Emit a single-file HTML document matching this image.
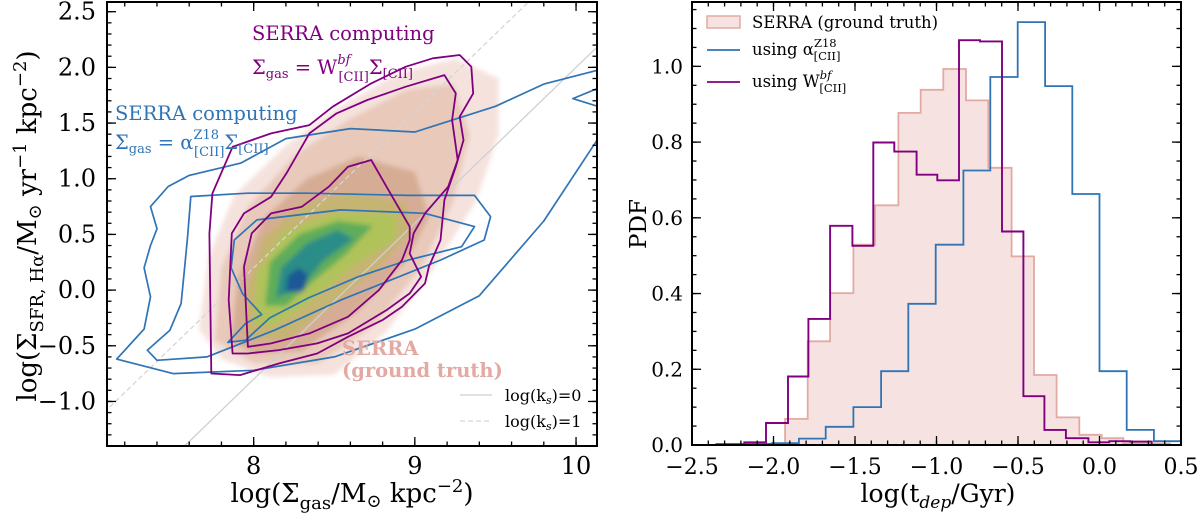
<!DOCTYPE html>
<html><head><meta charset="utf-8">
<style>
html,body{margin:0;padding:0;background:#fff;}
svg{display:block;font-family:"DejaVu Serif","Liberation Serif",serif;}
</style></head>
<body>
<svg id="fig" width="1200" height="514" viewBox="0 0 1200 514" xmlns="http://www.w3.org/2000/svg">
<defs>
<filter id="blur" x="-20%" y="-20%" width="140%" height="140%"><feGaussianBlur stdDeviation="2.5"/></filter>
<clipPath id="clipL"><rect x="107" y="2" width="490" height="444"/></clipPath>
<clipPath id="clipR"><rect x="692" y="2" width="489" height="443"/></clipPath>
</defs>
<g id="left"></g>
<g id="right"></g>
</svg>
<script>
// ===== Left panel data (data coordinates) =====
const ksSlope = [1.4];
const ksIntercepts = [-12.0, -11.0];
const densityColors = ["#f5e2dd","#e8c9ba","#d6ad94","#c6b472","#b0c35a","#5fad5a","#2a8d87","#1d5896","#0b1655"];
const densityL1 = [[7.66,-0.35],[7.72,0.3],[7.88,0.85],[8.2,1.3],[8.5,1.62],[8.9,1.95],[9.25,2.08],[9.52,1.9],[9.52,1.4],[9.38,0.8],[9.12,0.2],[8.82,-0.38],[8.5,-0.76],[8.1,-0.78],[7.8,-0.62]];
const densityL2 = [[7.76,-0.45],[7.8,0.2],[7.96,0.74],[8.26,1.22],[8.6,1.54],[8.95,1.8],[9.24,1.85],[9.34,1.4],[9.24,0.8],[9.04,0.2],[8.74,-0.33],[8.4,-0.66],[8.0,-0.66]];
const densityL3 = [[7.86,-0.45],[7.9,0.1],[8.06,0.64],[8.33,1.0],[8.65,1.2],[9.0,1.06],[9.09,0.66],[8.94,0.25],[8.64,-0.2],[8.3,-0.55],[8.0,-0.57]];
const densityL4 = [[7.94,-0.42],[7.96,0.05],[8.06,0.47],[8.3,0.78],[8.6,0.88],[8.94,0.78],[8.98,0.55],[8.78,0.2],[8.48,-0.15],[8.2,-0.45]];
const densityL5 = [[8.0,-0.3],[8.02,0.15],[8.18,0.52],[8.5,0.7],[8.88,0.68],[8.88,0.46],[8.6,0.2],[8.33,-0.13],[8.12,-0.32]];
const densityL6 = [[8.07,-0.14],[8.1,0.25],[8.28,0.5],[8.52,0.62],[8.74,0.58],[8.57,0.32],[8.37,0.08],[8.2,-0.14]];
const densityL7 = [[8.14,-0.07],[8.17,0.2],[8.33,0.42],[8.52,0.54],[8.62,0.46],[8.43,0.26],[8.3,0.03]];
const densityL8 = [[8.2,-0.02],[8.21,0.13],[8.28,0.2],[8.34,0.13],[8.31,-0.01]];
const purpleOuter = [[7.737,-0.749],[7.725,0.509],[7.744,0.868],[7.869,1.287],[8.108,1.407],[8.346,1.482],[8.49,1.647],[8.729,1.856],[8.944,2.006],[9.111,2.081],[9.278,2.111],[9.35,2.006],[9.362,1.766],[9.278,1.557],[9.302,1.347],[9.254,1.108],[9.183,0.808],[9.159,0.449],[9.087,0.21],[9.063,0.06],[8.92,-0.15],[8.8,-0.269],[8.585,-0.419],[8.394,-0.569],[8.155,-0.659],[7.916,-0.763]];
const purpleMid = [[7.869,-0.569],[7.845,-0.09],[7.864,0.509],[7.94,0.689],[8.108,0.838],[8.203,1.048],[8.346,1.407],[8.514,1.587],[8.705,1.707],[8.944,1.826],[9.183,1.931],[9.254,1.766],[9.231,1.527],[9.266,1.168],[9.207,0.928],[9.063,0.689],[8.992,0.509],[8.968,0.329],[9.039,0.12],[8.968,-0.03],[8.824,-0.18],[8.585,-0.389],[8.394,-0.479],[8.155,-0.539],[7.964,-0.569]];
const purpleInner = [[7.964,-0.509],[7.94,0.21],[7.988,0.509],[8.108,0.689],[8.299,0.749],[8.466,0.928],[8.585,1.108],[8.729,1.168],[8.824,0.928],[8.896,0.749],[8.968,0.569],[8.968,0.449],[8.92,0.269],[8.777,0.0],[8.585,-0.24],[8.346,-0.389],[8.108,-0.479]];
const blueOuter = [[7.15,-0.62],[7.5,-0.75],[8.0,-0.72],[8.5,-0.6],[9.0,-0.35],[9.4,-0.05],[9.8,0.62],[10.2,1.5],[10.2,2.0],[9.8,1.85],[9.5,1.65],[9.0,1.42],[8.6,1.45],[8.2,1.36],[7.92,1.14],[7.6,1.03],[7.47,0.93],[7.36,0.75],[7.4,0.55],[7.36,0.4],[7.32,0.2],[7.36,-0.06],[7.32,-0.35]];
const blueMid = [[7.59,0.48],[7.61,0.84],[7.96,0.87],[8.34,0.87],[8.96,0.85],[9.37,0.85],[9.47,0.66],[9.43,0.45],[9.16,0.27],[8.85,0.09],[8.54,-0.09],[8.13,-0.36],[7.71,-0.6],[7.4,-0.63],[7.34,-0.54],[7.48,-0.36],[7.55,-0.12],[7.57,0.18]];
const blueInner = [[7.84,-0.47],[7.95,-0.3],[8.05,-0.22],[7.93,-0.03],[7.86,0.2],[7.88,0.45],[8.02,0.63],[8.54,0.72],[9.06,0.69],[9.37,0.57],[9.29,0.39],[8.96,0.27],[8.65,0.12],[8.34,-0.07],[8.1,-0.25],[7.95,-0.45]];
const blueCorner = [[10.2,1.85],[9.98,1.72],[10.2,1.62]];
const leftXTicks = [8, 9, 10];
const leftYTicks = [-1.0, -0.5, 0.0, 0.5, 1.0, 1.5, 2.0, 2.5];
const leftYTickLabels = ["\u22121.0","\u22120.5","0.0","0.5","1.0","1.5","2.0","2.5"];

// ===== Right panel data =====
const pinkEdges = [-1.929,-1.79,-1.653,-1.51,-1.377,-1.234,-1.097,-0.958,-0.819,-0.682,-0.539,-0.402,-0.263,-0.124,0.013,0.146,0.293,0.432];
const pinkValues = [0.069,0.274,0.401,0.529,0.633,0.877,0.938,0.993,0.91,0.732,0.498,0.185,0.073,0.027,0.018,0.005,0.004];
const blueEdges = [-2.35,-2.011,-1.844,-1.68,-1.51,-1.34,-1.173,-1.005,-0.835,-0.67,-0.502,-0.334,-0.167,0.0,0.167,0.334,0.502];
const blueValues = [0.003,0.005,0.017,0.048,0.10,0.195,0.373,0.529,0.725,0.972,1.117,0.948,0.663,0.195,0.040,0.010];
const purpleEdges = [-2.179,-2.046,-1.911,-1.786,-1.653,-1.516,-1.388,-1.259,-1.122,-0.995,-0.862,-0.733,-0.598,-0.467,-0.338,-0.206,-0.068,0.06,0.187,0.32];
const purpleValues = [0.007,0.058,0.181,0.333,0.579,0.526,0.799,0.775,0.714,0.699,1.069,1.066,0.564,0.129,0.040,0.018,0.007,0.010,0.009];
const rightXTicks = [-2.5,-2.0,-1.5,-1.0,-0.5,0.0,0.5];
const rightXTickLabels = ["\u22122.5","\u22122.0","\u22121.5","\u22121.0","\u22120.5","0.0","0.5"];
const rightYTicks = [0.0,0.2,0.4,0.6,0.8,1.0];
const rightYTickLabels = ["0.0","0.2","0.4","0.6","0.8","1.0"];

const NS = "http://www.w3.org/2000/svg";
function mk(tag, attrs, parent){ const e=document.createElementNS(NS,tag); for(const k in attrs) e.setAttribute(k,attrs[k]); parent.appendChild(e); return e; }

const LA = {x0:107,x1:597,y0:2,y1:446,xmin:7.09,xmax:10.13,ymin:-1.40,ymax:2.587};
const RA = {x0:692,x1:1181,y0:2,y1:445,xmin:-2.5,xmax:0.5,ymin:0,ymax:1.17};
const lx = v => LA.x0 + (v-LA.xmin)/(LA.xmax-LA.xmin)*(LA.x1-LA.x0);
const ly = v => LA.y1 - (v-LA.ymin)/(LA.ymax-LA.ymin)*(LA.y1-LA.y0);
const rx = v => RA.x0 + (v-RA.xmin)/(RA.xmax-RA.xmin)*(RA.x1-RA.x0);
const ry = v => RA.y1 - (v-RA.ymin)/(RA.ymax-RA.ymin)*(RA.y1-RA.y0);
function pts(arr){ return arr.map(p=>lx(p[0]).toFixed(1)+","+ly(p[1]).toFixed(1)).join(" "); }

const left = document.getElementById('left');
const right = document.getElementById('right');

// ----- Left panel -----
const plotL = mk('g',{'clip-path':'url(#clipL)'},left);


const dens = mk('g',{filter:'url(#blur)'},plotL);


[densityL1,densityL2,densityL3,densityL4,densityL5,densityL6,densityL7,densityL8].forEach((layer,i)=>{
  const p = mk('polygon',{points:pts(layer),fill:densityColors[i]},dens);
  
  
});
ksIntercepts.forEach((b,i)=>{
  const x1=7.0,x2=10.3;
  const l = mk('line',{x1:lx(x1),y1:ly(ksSlope[0]*x1+b),x2:lx(x2),y2:ly(ksSlope[0]*x2+b),stroke:i===0?'#cfcfcf':'#d6d6d6','stroke-width':1.3,'stroke-dasharray':i===0?'none':'5,3'},plotL);
  
  
});
[[blueOuter,'blue-contour-outer',true],[blueMid,'blue-contour-mid',true],[blueInner,'blue-contour-inner',true],[blueCorner,'blue-contour-corner',false]].forEach(c=>{
  const e = mk(c[2]?'polygon':'polyline',{points:pts(c[0]),fill:'none',stroke:'#2f74b5','stroke-width':1.7,'stroke-linejoin':'round'},plotL);
  
  
});
[[purpleOuter,'purple-contour-outer'],[purpleMid,'purple-contour-mid'],[purpleInner,'purple-contour-inner']].forEach(c=>{
  const e = mk('polygon',{points:pts(c[0]),fill:'none',stroke:'#800080','stroke-width':1.8,'stroke-linejoin':'round'},plotL);
  
  
});

function ticks(g, A, fx, fy, xmaj, xmin, ymaj, ymin){
  const tg = mk('g',{stroke:'#000','stroke-width':1.3},g);
  
  
  const add=(v,len,isX)=>{
    if(isX){ const X=fx(v); if(X<A.x0+1||X>A.x1-1) return;
      mk('line',{x1:X,y1:A.y1,x2:X,y2:A.y1-len},tg); mk('line',{x1:X,y1:A.y0,x2:X,y2:A.y0+len},tg);}
    else { const Y=fy(v); if(Y<A.y0+1||Y>A.y1-1) return;
      mk('line',{x1:A.x0,y1:Y,x2:A.x0+len,y2:Y},tg); mk('line',{x1:A.x1,y1:Y,x2:A.x1-len,y2:Y},tg);}
  };
  for(let v=xmin[0]; v<=xmin[1]+1e-9; v+=xmin[2]) add(+v.toFixed(3),4.5,true);
  xmaj.forEach(v=>add(v,9,true));
  for(let v=ymin[0]; v<=ymin[1]+1e-9; v+=ymin[2]) add(+v.toFixed(3),4.5,false);
  ymaj.forEach(v=>add(v,9,false));
}
ticks(left, LA, lx, ly, leftXTicks, [7.2,10.2,0.2], leftYTicks, [-1.4,2.6,0.1]);
const frameL = mk('rect',{x:LA.x0,y:LA.y0,width:LA.x1-LA.x0,height:LA.y1-LA.y0,fill:'none',stroke:'#000','stroke-width':2},left);


leftXTicks.forEach(v=>{
  const t = mk('text',{x:lx(v),y:474,'text-anchor':'middle','font-size':24},left); t.textContent=String(v);
  
  
});
leftYTicks.forEach((v,i)=>{
  const t = mk('text',{x:96,y:ly(v)+8,'text-anchor':'end','font-size':24},left); t.textContent=leftYTickLabels[i];
  
  
});

// ----- Right panel -----
const plotR = mk('g',{'clip-path':'url(#clipR)'},right);


function stepPath(edges, vals){
  let d = 'M'+rx(edges[0]).toFixed(1)+','+ry(0).toFixed(1);
  vals.forEach((v,i)=>{ d += ' V'+ry(v).toFixed(1)+' H'+rx(edges[i+1]).toFixed(1); });
  d += ' V'+ry(0).toFixed(1);
  return d;
}
const hp = mk('path',{d:stepPath(pinkEdges,pinkValues),fill:'#f6e3e1',stroke:'#e2aaa3','stroke-width':1.8},plotR);


const hb = mk('path',{d:stepPath(blueEdges,blueValues),fill:'none',stroke:'#2f74b5','stroke-width':1.8},plotR);


const hu = mk('path',{d:stepPath(purpleEdges,purpleValues),fill:'none',stroke:'#800080','stroke-width':1.9},plotR);


ticks(right, RA, rx, ry, rightXTicks, [-2.5,0.5,0.1], rightYTicks, [0,1.15,0.05]);
const frameR = mk('rect',{x:RA.x0,y:RA.y0,width:RA.x1-RA.x0,height:RA.y1-RA.y0,fill:'none',stroke:'#000','stroke-width':2},right);


rightXTicks.forEach((v,i)=>{
  const t = mk('text',{x:rx(v),y:474,'text-anchor':'middle','font-size':22},right); t.textContent=rightXTickLabels[i];
  
  
});
rightYTicks.forEach((v,i)=>{
  const t = mk('text',{x:683,y:ry(v)+7,'text-anchor':'end','font-size':20},right); t.textContent=rightYTickLabels[i];
  
  
});
</script>

<svg style="position:absolute;left:0;top:0" width="1200" height="514" viewBox="0 0 1200 514" xmlns="http://www.w3.org/2000/svg" font-family="DejaVu Serif, Liberation Serif, serif">
  <text transform="translate(36,226) rotate(-90)" text-anchor="middle" font-size="26">log(Σ<tspan font-size="18" dy="7">SFR, Hα</tspan><tspan dy="-7">/M</tspan><tspan font-size="18" dy="5">⊙</tspan><tspan dy="-5"> yr</tspan><tspan font-size="18" dy="-10">−1</tspan><tspan dy="10"> kpc</tspan><tspan font-size="18" dy="-10">−2</tspan><tspan dy="10">)</tspan></text>
  <text x="352" y="502" text-anchor="middle" font-size="26">log(Σ<tspan font-size="18" dy="7">gas</tspan><tspan dy="-7">/M</tspan><tspan font-size="18" dy="5">⊙</tspan><tspan dy="-5"> kpc</tspan><tspan font-size="18" dy="-10">−2</tspan><tspan dy="10">)</tspan></text>
  <text x="252" y="40" font-size="19.5" fill="#800080">SERRA computing</text>
  <text x="252" y="74" font-size="19.5" fill="#800080">Σ<tspan font-size="13" dy="4">gas</tspan><tspan dy="-4"> = W</tspan><tspan font-size="13" dy="-10" font-style="italic">bf</tspan><tspan font-size="13" dx="-12" dy="17">[CII]</tspan><tspan dy="-7">Σ</tspan><tspan font-size="13" dy="4">[CII]</tspan></text>
  <text x="115" y="120" font-size="19.5" fill="#2f74b5">SERRA computing</text>
  <text x="115" y="149" font-size="19.5" fill="#2f74b5">Σ<tspan font-size="13" dy="4">gas</tspan><tspan dy="-4"> = α</tspan><tspan font-size="13" dy="-10">Z18</tspan><tspan font-size="13" dx="-25" dy="17">[CII]</tspan><tspan dy="-7">Σ</tspan><tspan font-size="13" dy="4">[CII]</tspan></text>
  <text x="342" y="355" font-size="19.5" font-weight="bold" fill="#e2aaa3">SERRA</text>
  <text x="342" y="377" font-size="19.5" font-weight="bold" fill="#e2aaa3">(ground truth)</text>
  <g>
    <line x1="460" y1="395" x2="492" y2="395" stroke="#cfcfcf" stroke-width="1.3"/>
    <text x="505" y="401" font-size="16">log(k<tspan font-size="11" dy="3" font-style="italic">s</tspan><tspan dy="-3">)=0</tspan></text>
    <line x1="460" y1="421" x2="492" y2="421" stroke="#d6d6d6" stroke-width="1.3" stroke-dasharray="5,3"/>
    <text x="505" y="427" font-size="16">log(k<tspan font-size="11" dy="3" font-style="italic">s</tspan><tspan dy="-3">)=1</tspan></text>
  </g>
  <text transform="translate(646,224) rotate(-90)" text-anchor="middle" font-size="23">PDF</text>
  <text x="938" y="502" text-anchor="middle" font-size="25">log(t<tspan font-size="17" dy="6" font-style="italic">dep</tspan><tspan dy="-6">/Gyr)</tspan></text>
  <g>
    <rect x="707" y="16" width="33" height="12" fill="#f6e3e1" stroke="#e2aaa3" stroke-width="1.5"/>
    <text x="752" y="28" font-size="16.5">SERRA (ground truth)</text>
    <line x1="707" y1="50" x2="740" y2="50" stroke="#2f74b5" stroke-width="1.8"/>
    <text x="752" y="55" font-size="16.5">using α<tspan font-size="11.5" dy="-8">Z18</tspan><tspan font-size="11.5" dx="-23" dy="13">[CII]</tspan></text>
    <line x1="707" y1="82" x2="740" y2="82" stroke="#800080" stroke-width="1.8"/>
    <text x="752" y="87" font-size="16.5">using W<tspan font-size="11.5" dy="-8" font-style="italic">bf</tspan><tspan font-size="11.5" dx="-12" dy="13">[CII]</tspan></text>
  </g>
</svg>
</body></html>
